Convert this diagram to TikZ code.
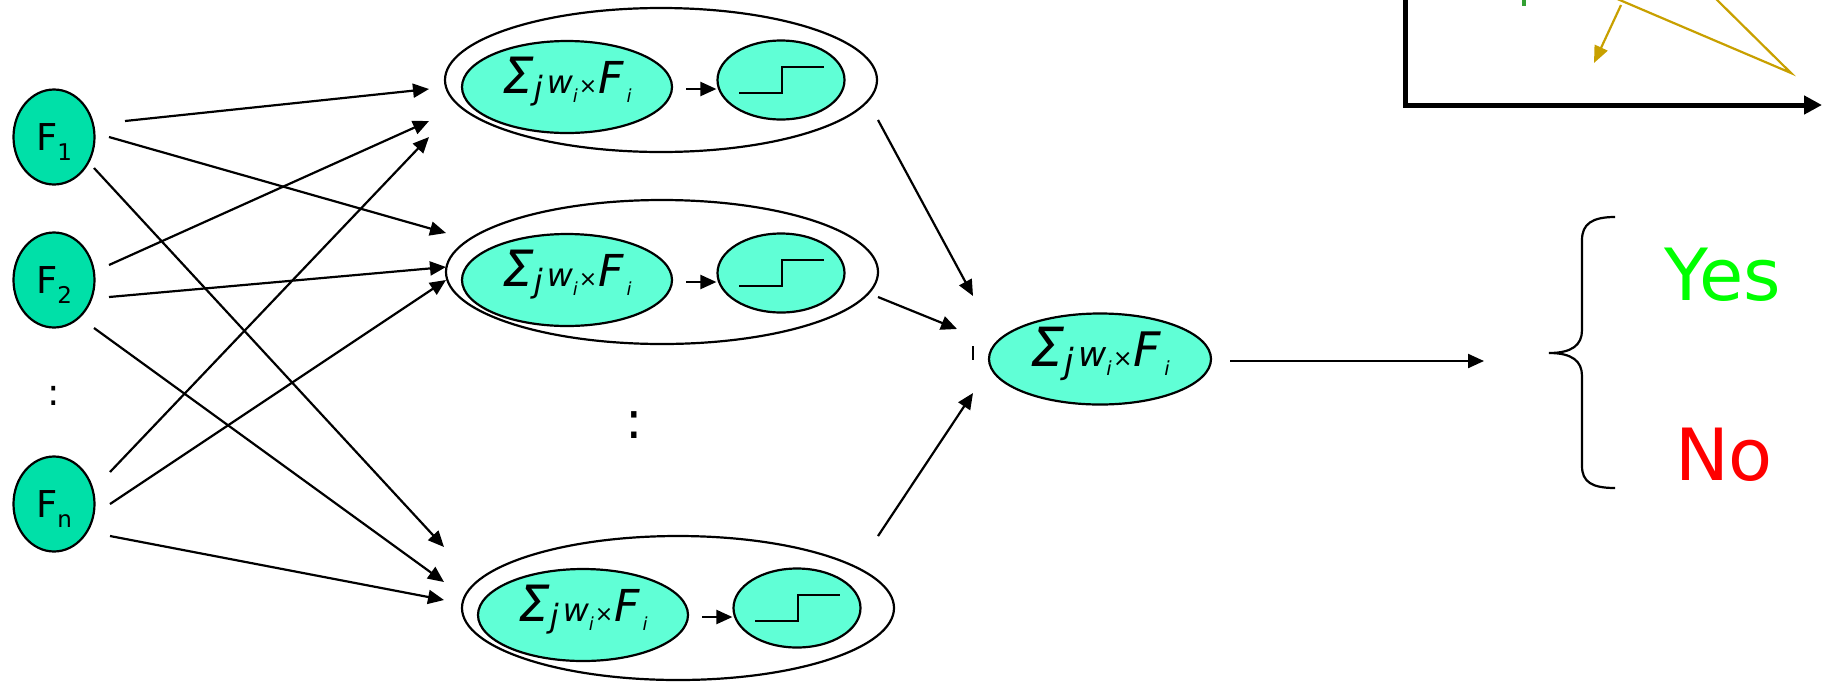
\documentclass[tikz,border=0pt]{standalone}
\usepackage{fontspec}
\setmainfont{DejaVu Sans}
\usetikzlibrary{arrows.meta,shapes.geometric,calc}

\definecolor{inputfill}{RGB}{0,224,168}
\definecolor{unitfill}{RGB}{96,255,214}
\definecolor{gold}{RGB}{200,160,0}
\definecolor{tickgreen}{RGB}{51,160,51}
\definecolor{yesgreen}{RGB}{0,255,0}
\definecolor{nored}{RGB}{255,0,0}

% weighted sum  \Sigma_j w_i x F_i
\newcommand\wsum{%
  \begingroup\itshape
  {\fontsize{25}{25}\selectfont Σ}%
  \raisebox{-3.25pt}{\fontsize{16}{16}\selectfont j}\hspace{2pt}%
  {\fontsize{16}{16}\selectfont w}%
  \raisebox{-4.5pt}{\fontsize{9}{9}\selectfont i}\hspace{0.5pt}%
  {\upshape\fontsize{11}{11}\selectfont ×}%
  \hspace{0.5pt}{\fontsize{22}{22}\selectfont F}\hspace{1.5pt}%
  \raisebox{-4.5pt}{\fontsize{9}{9}\selectfont i}%
  \endgroup}

% input feature label F_k
\newcommand\flabel[1]{%
  {\fontsize{18.5}{20}\selectfont F}%
  \smash{\raisebox{-5pt}{\fontsize{11.5}{12}\selectfont #1}}}

\begin{document}
\begin{tikzpicture}[x=0.5pt,y=-0.5pt,line width=1.1pt,
  arr/.style={-{Triangle[length=8pt,width=7pt]}},
  inp/.style={ellipse,draw,fill=inputfill,minimum width=40.5pt,minimum height=47.5pt,inner sep=0pt},
  grp/.style={ellipse,draw,minimum width=216pt,minimum height=72pt,inner sep=0pt},
  sumunit/.style={ellipse,draw,fill=unitfill,minimum width=105pt,minimum height=46pt,inner sep=0pt,text depth=12pt},
  stepunit/.style={ellipse,draw,fill=unitfill,minimum width=63.5pt,minimum height=39.5pt,inner sep=0pt},
  stepline/.style={line width=1.1pt},
  dots/.style={inner sep=0pt},
]
\useasboundingbox (0,0) rectangle (1824,681);
\clip (0,0) rectangle (1824,681);

% input features
\node[inp] (F1) at (54,137) {\flabel{1}};
\node[inp] (F2) at (54,280) {\flabel{2}};
\node[inp] (Fn) at (54,504) {\flabel{n}};
\node[dots,font=\fontsize{18.5}{20}\selectfont] (dotsin) at (54,396) {:};

% hidden units: weighted sum followed by a threshold
\node[grp] (G1) at (661,80) {};
\node[sumunit] (S1) at (567,87) {\wsum};
\node[stepunit] (T1) at (781,80) {};

\node[grp] (G2) at (662,272) {};
\node[sumunit] (S2) at (567,280) {\wsum};
\node[stepunit] (T2) at (781,273) {};

\node[grp] (G3) at (678,608) {};
\node[sumunit] (S3) at (583,615) {\wsum};
\node[stepunit] (T3) at (797,608) {};

\node[dots,font=\fontsize{26}{26}\selectfont] (dotsmid) at (634,425) {:};

\foreach \t in {T1,T2,T3}
  \draw[stepline] ($(\t)+(-42,13)$) -- ++(43,0) -- ++(0,-26) -- ++(42,0);
\foreach \s/\t in {S1/T1,S2/T2,S3/T3}
  \draw[arr] ($(\s.east)+(13,2)$) -- ($(\t.west)+(0,9)$);

% output unit
\node[sumunit,minimum width=111pt,minimum height=45.5pt,text depth=12.5pt] (S) at (1100,359) {\scalebox{1.08}{\wsum}};

% connector ends
\coordinate (F1a) at (125,121);  \coordinate (F1b) at (109,137);  \coordinate (F1c) at (94,168);
\coordinate (F2a) at (109,265);  \coordinate (F2b) at (109,297);  \coordinate (F2c) at (94,328);
\coordinate (Fna) at (110,472);  \coordinate (Fnb) at (110,504);  \coordinate (Fnc) at (110,536);
\coordinate (G1a) at (429,89);   \coordinate (G1b) at (429,121);  \coordinate (G1c) at (429,137);
\coordinate (G2a) at (446,233);  \coordinate (G2b) at (446,267);  \coordinate (G2c) at (446,280);
\coordinate (G3a) at (444,547);  \coordinate (G3b) at (444,582);  \coordinate (G3c) at (444,600);
\coordinate (G1o) at (878,120);  \coordinate (G2o) at (878,297);  \coordinate (G3o) at (878,536);
\coordinate (Sa) at (973,296);   \coordinate (Sb) at (957,329);   \coordinate (Sc) at (973,393);
\coordinate (So) at (1230,361);  \coordinate (out) at (1484,361);

% inputs to hidden units
\draw[arr] (F1a) -- (G1a);
\draw[arr] (F1b) -- (G2a);
\draw[arr] (F1c) -- (G3a);
\draw[arr] (F2a) -- (G1b);
\draw[arr] (F2b) -- (G2b);
\draw[arr] (F2c) -- (G3b);
\draw[arr] (Fna) -- (G1c);
\draw[arr] (Fnb) -- (G2c);
\draw[arr] (Fnc) -- (G3c);

% hidden units to output unit
\draw[arr] (G1o) -- (Sa);
\draw[arr] (G2o) -- (Sb);
\draw[arr] (G3o) -- (Sc);
\draw[line width=0.8pt] (973,346) -- (973,360);
\draw[arr] (So) -- (out);

% decision
\draw (1615,217) .. controls (1592,217) and (1582,224) .. (1582,240)
  -- (1582,330) .. controls (1582,345) and (1572,353) .. (1549,353)
  .. controls (1572,353) and (1582,361) .. (1582,376)
  -- (1582,466) .. controls (1582,482) and (1592,488) .. (1615,488);
\node[font=\fontsize{36}{36}\selectfont,text=yesgreen,anchor=base] (yes) at (1723,300) {Yes};
\node[font=\fontsize{36}{36}\selectfont,text=nored,anchor=base] (no) at (1724,480) {No};

% corner plot
\draw[line width=2.5pt,-{Triangle[length=9pt,width=9pt]}] (1405,-5) -- (1405,105) -- (1822,105);
\draw[gold] (1608,-5) -- (1791,73) -- (1712,-5);
\draw[gold,-{Triangle[length=8.5pt,width=7pt]}] (1621,5) -- (1594,63);
\draw[tickgreen,line width=2pt] (1524,-2) -- (1524,6);
\end{tikzpicture}
\end{document}
